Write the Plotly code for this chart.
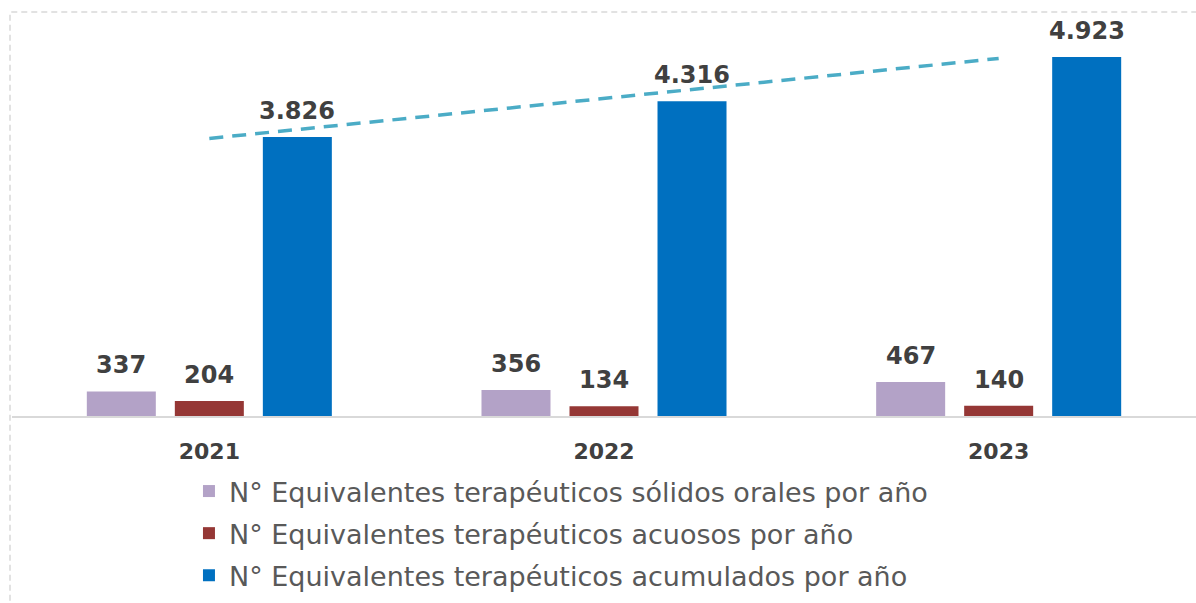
import numpy as np
import plotly.graph_objects as go

years = ["2021", "2022", "2023"]
solidos = [337, 356, 467]
acuosos = [204, 134, 140]
acumulados = [3826, 4316, 4923]
series_names = [
    "N° Equivalentes terapéuticos sólidos orales por año",
    "N° Equivalentes terapéuticos acuosos por año",
    "N° Equivalentes terapéuticos acumulados por año",
]
series_colors = ["#B3A2C7", "#953735", "#0070C0"]
series_values = [solidos, acuosos, acumulados]

W, H = 1196, 603
ML, MR, MT, MB = 12, 0, 20, 187

fig = go.Figure()
for i, (name, vals, col) in enumerate(zip(series_names, series_values, series_colors)):
    fig.add_trace(go.Bar(x=years, y=vals, name=name, marker_color=col,
                         marker_line_width=0, legendgroup=f"g{i}"))

# linear trendline on accumulated series
xi = np.arange(len(years))
coef = np.polyfit(xi, acumulados, 1)
trend = np.polyval(coef, xi)
fig.add_trace(go.Scatter(x=years, y=trend.tolist(), mode="lines", showlegend=False,
                         line=dict(color="#4BACC6", width=3.5, dash="14px,9px"),
                         hoverinfo="skip"))

def fmt(v):
    return f"{v:,}".replace(",", ".")

annotations = []
for i, vals in enumerate(series_values):
    for j, v in enumerate(vals):
        annotations.append(dict(x=j, y=v, xref="x", yref="y", text=fmt(v),
                                showarrow=False, yanchor="bottom", xanchor="center",
                                xshift=(i - 1) * 88, yshift=10,
                                font=dict(family="DejaVu Sans", size=24, color="#404040",
                                          weight="bold")))

plot_h = H - MT - MB
ppu = 279 / 3826
ymax = plot_h / ppu

fig.update_layout(
    width=W, height=H,
    margin=dict(l=ML, r=MR, t=MT, b=MB, autoexpand=False),
    paper_bgcolor="white", plot_bgcolor="white",
    barmode="group", bargap=0.331, bargroupgap=0.216,
    annotations=annotations,
    showlegend=True,
    legend=dict(orientation="v", xref="container", yref="container",
                x=0.158, y=1 - 467 / H, xanchor="left", yanchor="top",
                font=dict(family="DejaVu Sans", size=27, color="#595959"),
                tracegroupgap=4, bgcolor="rgba(0,0,0,0)"),
    xaxis=dict(type="category", range=[-0.5, len(years) - 0.5], autorange=False,
               showgrid=False, showline=True, linecolor="#D9D9D9",
               linewidth=1.5, ticks="", ticklabelstandoff=15,
               tickfont=dict(family="DejaVu Sans", size=22, color="#404040", weight="bold")),
    yaxis=dict(range=[0, ymax], autorange=False, visible=False, showgrid=False, zeroline=False),
    shapes=[dict(type="rect", xref="paper", yref="paper",
                 x0=-2 / (W - ML - MR), x1=1.01,
                 y0=-0.6, y1=1 + 8 / plot_h,
                 line=dict(color="#D9D9D9", width=1.5, dash="6px,4px"),
                 layer="below")],
)

fig.write_html("out.html", config={"displayModeBar": False},
               post_script="document.body.style.margin='0';")
